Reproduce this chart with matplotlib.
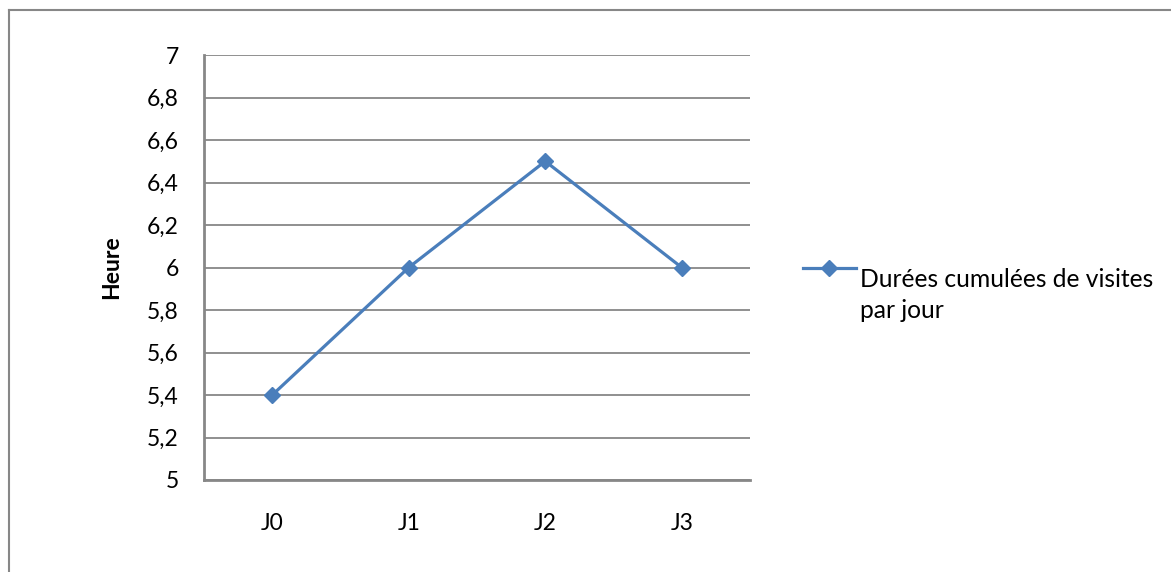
import matplotlib
matplotlib.use('Agg')
import matplotlib.pyplot as plt
from matplotlib.lines import Line2D

# data
jours = ['J0', 'J1', 'J2', 'J3']
heures = [5.4, 6.0, 6.5, 6.0]
serie_label = ['Durées cumulées de visites', 'par jour']
y_ticks = [5, 5.2, 5.4, 5.6, 5.8, 6, 6.2, 6.4, 6.6, 6.8, 7]

plt.rcParams['font.family'] = ['Lato', 'DejaVu Sans']

W, H = 1171, 572
fig = plt.figure(figsize=(W / 100, H / 100), dpi=100)
ax = fig.add_axes([204 / W, 1 - 480 / H, 546 / W, 425 / H])

grid_col = '#878787'
line_col = '#4A7EBB'
fs = 16.5

x = list(range(len(jours)))
ax.plot(x, heures, color=line_col, lw=2.3, marker='D', markersize=8,
        zorder=3)

ax.set_xlim(-0.5, len(jours) - 0.5)
ax.set_ylim(5, 7)
ax.set_yticks(y_ticks)
ax.set_yticklabels([f'{v:g}'.replace('.', ',') for v in y_ticks])
ax.set_xticks(x)
ax.set_xticklabels(jours)
ax.tick_params(axis='y', length=0, pad=18, labelsize=fs)
ax.tick_params(axis='x', length=0, pad=24, labelsize=fs)
ax.yaxis.grid(True, color=grid_col, lw=1.3)
ax.set_axisbelow(True)

for s in ['top', 'right']:
    ax.spines[s].set_visible(False)
for s in ['left', 'bottom']:
    ax.spines[s].set_color(grid_col)
    ax.spines[s].set_linewidth(2)

ax.set_ylabel('Heure', fontsize=fs, fontweight='bold', labelpad=18)

# legend drawn by hand (Excel style: handle aligned with first line)
fig.add_artist(Line2D([803 / W, 856 / W], [1 - 268 / H, 1 - 268 / H],
                      transform=fig.transFigure, color=line_col, lw=2.3))
fig.add_artist(Line2D([829 / W], [1 - 268 / H], transform=fig.transFigure,
                      color=line_col, marker='D', markersize=8))
fig.text(860 / W, 1 - 287 / H, serie_label[0], fontsize=17.7, va='baseline')
fig.text(860 / W, 1 - 318 / H, serie_label[1], fontsize=17.7, va='baseline')

# outer border (top and left only visible)
fig.add_artist(Line2D([9 / W, 9 / W], [0, 1 - 10 / H],
                      transform=fig.transFigure, color=grid_col, lw=1.5))
fig.add_artist(Line2D([9 / W, 1], [1 - 10 / H, 1 - 10 / H],
                      transform=fig.transFigure, color=grid_col, lw=1.5))

fig.savefig('out.png', dpi=100)
